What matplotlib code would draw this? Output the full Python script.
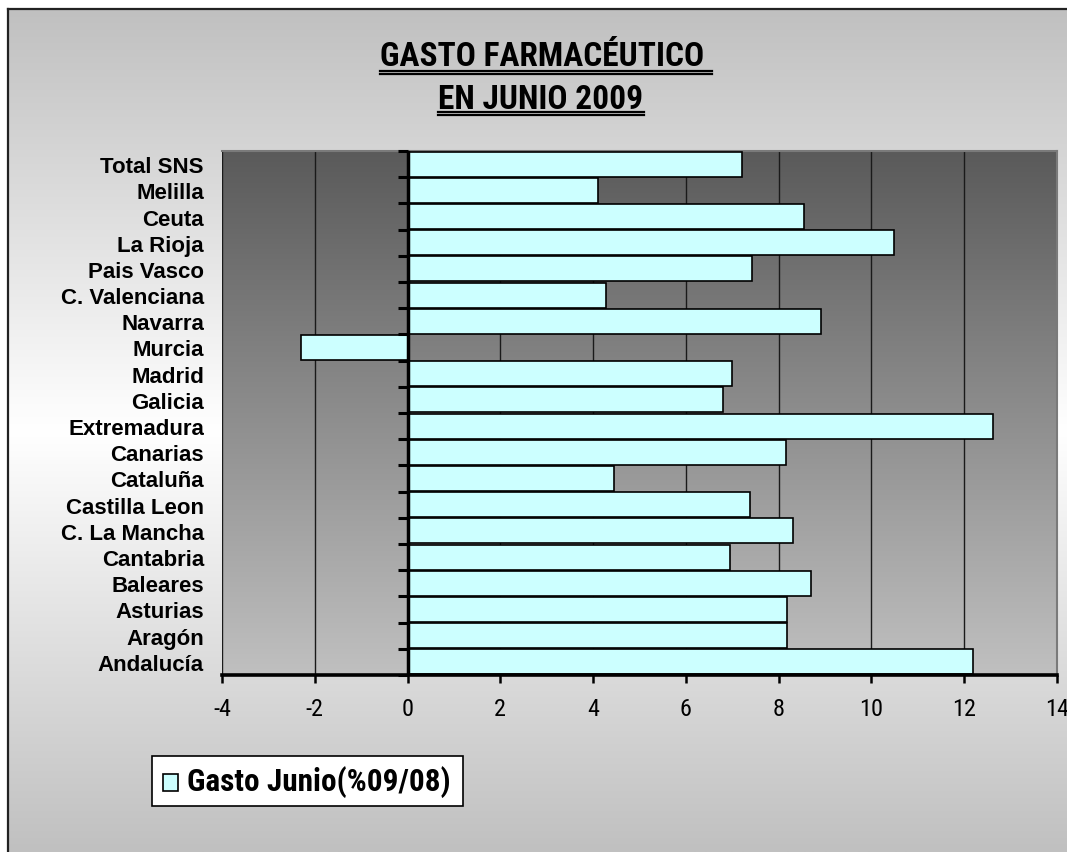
import numpy as np
import matplotlib
matplotlib.use("Agg")
import matplotlib.pyplot as plt
from matplotlib.patches import Rectangle

# ---------------- data ----------------
categories = ["Andalucía", "Aragón", "Asturias", "Baleares", "Cantabria",
              "C. La Mancha", "Castilla Leon", "Cataluña", "Canarias",
              "Extremadura", "Galicia", "Madrid", "Murcia", "Navarra",
              "C. Valenciana", "Pais Vasco", "La Rioja", "Ceuta", "Melilla",
              "Total SNS"]
values = [12.19, 8.19, 8.19, 8.70, 6.96, 8.30, 7.39, 4.45, 8.15, 12.62,
          6.81, 6.99, -2.29, 8.92, 4.27, 7.43, 10.48, 8.55, 4.10, 7.21]
x_ticks = [-4, -2, 0, 2, 4, 6, 8, 10, 12, 14]
title_lines = ["GASTO FARMACÉUTICO ", "EN JUNIO 2009"]
legend_label = "Gasto Junio(%09/08)"

NARROW = ["Arial Narrow", "Liberation Sans Narrow", "Roboto Condensed",
          "Archivo Narrow", "Liberation Sans", "DejaVu Sans"]
REG = ["Liberation Sans", "Arimo", "DejaVu Sans"]

W, H = 1067, 853
fig = plt.figure(figsize=(W / 100, H / 100), dpi=100)
fig.patch.set_facecolor("white")

# ---------- figure background gradient (chart area) ----------
bg = fig.add_axes([0, 0, 1, 1], zorder=-10)
bg.set_xlim(0, W)
bg.set_ylim(H, 0)
bg.axis("off")
yy = np.linspace(0, 1, 400)
shade = 1 - np.abs(yy - 0.5) * 2  # 0 at edges, 1 in middle
grey = (0xc0 + (255 - 0xc0) * shade) / 255.0
img = np.repeat(grey[:, None], 2, axis=1)
bg.imshow(np.dstack([img, img, img]), extent=[8, W, H, 10], aspect="auto",
          interpolation="bilinear")
bg.plot([8, 8], [10, H], color="#222222", lw=1.6)
bg.plot([8, W], [10, 10], color="#222222", lw=1.6)

# ---------------- main axes ----------------
left, right, top, bottom = 222, 1057, 152, 676
ax = fig.add_axes([left / W, 1 - bottom / H, (right - left) / W, (bottom - top) / H])
n = len(categories)

# plot-area gradient (dark top -> light bottom)
g = np.linspace(0xc0, 0x5a, 300) / 255.0   # row 0 = bottom (light)
gimg = np.repeat(g[:, None], 2, axis=1)
ax.imshow(np.dstack([gimg, gimg, gimg]), extent=[-4, 14, -0.5, n - 0.5],
          aspect="auto", interpolation="bilinear", zorder=0, origin="lower")
ax.set_xlim(-4, 14)
ax.set_ylim(-0.5, n - 0.5)

ypos = np.arange(n)
ax.set_axisbelow(True)
ax.grid(axis="x", color="#1a1a1a", lw=1.0, zorder=1)
ax.barh(ypos, values, height=0.95, color="#CCFFFF", edgecolor="black",
        linewidth=1.2, zorder=3)

# y-axis at zero with boundary ticks
ax.axvline(0, color="black", lw=2.5, zorder=5)
ax.plot(np.zeros(n + 1), np.arange(n + 1) - 0.5,
        linestyle="none", marker=0, markersize=7, mew=2.2, color="black",
        zorder=5, clip_on=False)

ax.spines["left"].set_visible(False)
for s in ["top", "right"]:
    ax.spines[s].set_color("#7a7a7a")
    ax.spines[s].set_linewidth(1.5)
ax.spines["bottom"].set_color("black")
ax.spines["bottom"].set_linewidth(2.6)
ax.spines["bottom"].set_zorder(6)

ax.set_yticks(ypos)
ax.set_yticklabels(categories, fontsize=16, fontweight="bold", family=REG)
ax.tick_params(axis="y", length=0, pad=13)
ax.set_xticks(x_ticks)
ax.set_xticklabels([str(v) for v in x_ticks], fontsize=17.5, family=NARROW)
ax.tick_params(axis="x", direction="out", length=6, width=1.8, pad=10,
               color="black")

# ---------------- title with double underline ----------------
t1 = fig.text(546 / W, 1 - 57 / H, title_lines[0], ha="center", va="center",
              fontsize=24, fontweight="bold", family=NARROW)
t2 = fig.text(541 / W, 1 - 100 / H, title_lines[1], ha="center", va="center",
              fontsize=24, fontweight="bold", family=NARROW)
fig.canvas.draw()
r = fig.canvas.get_renderer()
for t, (ya, yb) in [(t1, (71.5, 74.5)), (t2, (113, 116))]:
    bb = t.get_window_extent(renderer=r)
    for yv in (ya, yb):
        bg.plot([bb.x0, bb.x1], [yv, yv], color="black", lw=1.6)

# ---------------- legend (manual box) ----------------
bg.add_patch(Rectangle((152, 757), 311, 50, facecolor="white",
                       edgecolor="black", lw=1.2, zorder=2))
bg.add_patch(Rectangle((163, 775), 15, 17, facecolor="#CCFFFF",
                       edgecolor="black", lw=1.2, zorder=3))
bg.text(187, 782, legend_label, ha="left", va="center", fontsize=22.5,
        fontweight="bold", family=NARROW, zorder=4)

fig.savefig("out.png", dpi=100)
